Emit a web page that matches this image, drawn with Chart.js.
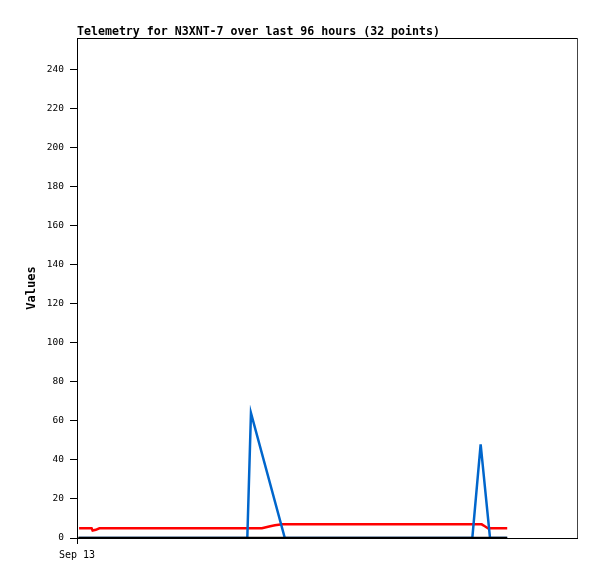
<!DOCTYPE html>
<html><head><meta charset="utf-8">
<script src="https://cdn.jsdelivr.net/npm/chart.js@4"></script>
<style>html,body{margin:0;padding:0;background:#fff}#wrap{width:597px;height:579px}</style>
</head><body><div id="wrap"><canvas id="c" width="597" height="579"></canvas></div>
<script>
const chartTitle = 'Telemetry for N3XNT-7 over last 96 hours (32 points)';
const yTitle = 'Values';
const yTicks = [0, 20, 40, 60, 80, 100, 120, 140, 160, 180, 200, 220, 240];
const xTickHours = [0];
const xTickLabels = ['Sep 13'];

const blackHours = [0.25, 82.6];
const blackValues = [0, 0];

const blueHours = [0.4, 32.7, 33.4, 39.9, 75.9, 77.5, 79.3, 82.6];
const blueValues = [0, 0, 64, 0, 0, 48, 0, 0];

const redHours = [0.4, 2.8, 3.0, 3.6, 4.3, 35.5, 37.1, 38.0, 39.4, 77.7, 78.3, 78.9, 82.6];
const redValues = [5, 5, 3.8, 4.2, 5, 5, 6, 6.5, 7, 7, 6, 5, 5];

const pts = (xs, ys) => xs.map((x, i) => ({x, y: ys[i]}));
const mono = '"DejaVu Sans Mono", "Liberation Mono", monospace';

const frame = {
  id: 'frame',
  afterDatasetsDraw(chart) {
    const {ctx, chartArea: a} = chart;
    ctx.save();
    ctx.strokeStyle = '#000';
    ctx.lineWidth = 1;
    ctx.beginPath();
    ctx.moveTo(a.left, a.top + 0.5);
    ctx.lineTo(a.right + 0.5, a.top + 0.5);
    ctx.stroke();
    ctx.strokeStyle = '#444';
    ctx.beginPath();
    ctx.moveTo(a.right + 0.5, a.top);
    ctx.lineTo(a.right + 0.5, a.bottom);
    ctx.stroke();
    ctx.restore();
  }
};

new Chart(document.getElementById('c'), {
  type: 'line',
  data: {
    datasets: [
      {label: 'zero', data: pts(blackHours, blackValues), borderColor: '#000', borderWidth: 2.5},
      {label: 'blue', data: pts(blueHours, blueValues), borderColor: '#0066cc', borderWidth: 2.5},
      {label: 'red', data: pts(redHours, redValues), borderColor: '#ff0000', borderWidth: 2.5}
    ]
  },
  options: {
    responsive: false,
    animation: false,
    layout: {padding: {left: 0, right: 20, top: 0, bottom: 0}},
    elements: {point: {radius: 0}, line: {tension: 0}},
    plugins: {
      legend: {display: false},
      tooltip: {enabled: false},
      title: {
        display: true, text: chartTitle, align: 'start', fullSize: false,
        color: '#000', font: {family: mono, size: 11.6, weight: 'bold', lineHeight: 1},
        padding: {top: 26, bottom: 0.4}
      }
    },
    scales: {
      x: {
        type: 'linear', min: 0, max: 96,
        afterBuildTicks: s => { s.ticks = xTickHours.map(v => ({value: v})); },
        afterFit: s => { s.height = 41; },
        ticks: {
          color: '#000', font: {family: mono, size: 10}, padding: 5, maxRotation: 0,
          callback: (v, i) => xTickLabels[i]
        },
        grid: {drawOnChartArea: false, drawTicks: true, tickLength: 6, color: '#000'},
        border: {display: true, color: '#000', width: 1}
      },
      y: {
        min: 0, max: 256,
        afterBuildTicks: s => { s.ticks = yTicks.map(v => ({value: v})); },
        afterFit: s => { s.width = 77; },
        ticks: {color: '#000', font: {family: mono, size: 9.5}, padding: 6},
        grid: {drawOnChartArea: false, drawTicks: true, tickLength: 7, color: '#000'},
        border: {display: true, color: '#000', width: 1},
        title: {
          display: true, text: yTitle, color: '#000',
          font: {family: mono, size: 12, weight: 'bold'},
          padding: {top: 25, bottom: 0}
        }
      }
    }
  },
  plugins: [frame]
});
</script></body></html>
